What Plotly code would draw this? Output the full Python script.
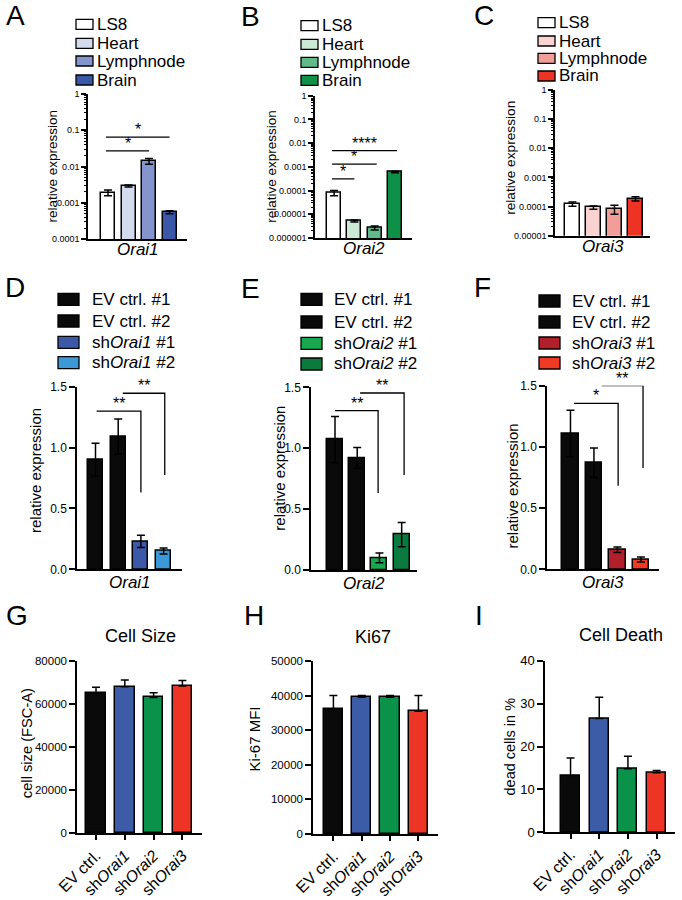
import math
import plotly.graph_objects as go

W, H = 682, 900
FONT = "Liberation Sans, Arial, Helvetica, sans-serif"

# ---------------- data ----------------
tissues = ["LS8", "Heart", "Lymphnode", "Brain"]
genes = ["Orai1", "Orai2", "Orai3"]

orai1_tissue = [0.0019, 0.0029, 0.0140, 0.00055]
orai1_tissue_err = [0.00035, 0.0002, 0.0025, 0.00005]
orai2_tissue = [0.00008, 0.0000052, 0.0000027, 0.00061]
orai2_tissue_err = [0.00002, 0.0000005, 0.0000005, 0.00005]
orai3_tissue = [0.000122, 0.000093, 0.000083, 0.000185]
orai3_tissue_err = [0.00002, 0.000012, 0.000028, 0.00003]

kd_orai1_labels = ["EV ctrl. #1", "EV ctrl. #2", "sh<i>Orai1</i> #1", "sh<i>Orai1</i> #2"]
kd_orai2_labels = ["EV ctrl. #1", "EV ctrl. #2", "sh<i>Orai2</i> #1", "sh<i>Orai2</i> #2"]
kd_orai3_labels = ["EV ctrl. #1", "EV ctrl. #2", "sh<i>Orai3</i> #1", "sh<i>Orai3</i> #2"]
kd_orai1 = [0.90, 1.09, 0.23, 0.15]
kd_orai1_err = [0.135, 0.145, 0.05, 0.025]
kd_orai2 = [1.07, 0.92, 0.10, 0.29]
kd_orai2_err = [0.19, 0.085, 0.04, 0.10]
kd_orai3 = [1.11, 0.87, 0.16, 0.08]
kd_orai3_err = [0.19, 0.12, 0.022, 0.02]

conditions = ["EV ctrl.", "sh<i>Orai1</i>", "sh<i>Orai2</i>", "sh<i>Orai3</i>"]
cell_size = [65300, 68100, 63100, 68400]
cell_size_err = [2500, 3100, 2200, 2500]
ki67_mfi = [36000, 39500, 39500, 35500]
ki67_mfi_err = [4000, 500, 500, 4500]
dead_cells = [13.2, 26.5, 14.8, 13.9]
dead_cells_err = [4.1, 5.0, 2.9, 0.5]

# significance: (bar from, bar to, height, label) / brackets add drop height
sig_A = [(-0.1, 3.0, 0.065, "*"), (-0.1, 2.0, 0.027, "*")]
sig_B = [(-0.1, 3.1, 0.0048, "****"), (-0.1, 2.1, 0.0013, "*"), (-0.1, 1.0, 0.00031, "*")]
sig_D = [(0.05, 2.0, 1.30, 0.63, "**"), (1.2, 3.05, 1.446, 0.775, "**")]
sig_E = [(0.0, 1.94, 1.308, 0.632, "**"), (1.13, 3.11, 1.453, 0.78, "**")]
sig_F = [(0.15, 2.03, 1.356, 0.683, "*"), (1.33, 3.09, 1.50, 0.828, "**")]

# ---------------- styles ----------------
tissue_colors_1 = ["#FFFFFF", "#D5DBEF", "#8494CC", "#3B58A8"]
tissue_colors_2 = ["#FFFFFF", "#CBE9D5", "#62B98A", "#0E9146"]
tissue_colors_3 = ["#FFFFFF", "#F9D2D2", "#F29E98", "#EE3224"]
kd_colors_1 = ["#0A0A0A", "#0A0A0A", "#3C58A8", "#3D98D8"]
kd_colors_2 = ["#0A0A0A", "#0A0A0A", "#17A84F", "#0B7A3E"]
kd_colors_3 = ["#0A0A0A", "#0A0A0A", "#B01F2A", "#EF3A25"]
cond_colors = ["#0A0A0A", "#3D5CA8", "#0A924A", "#EE3424"]


def log_ticks(lo):
    vals = [10.0 ** e for e in range(lo, 1)]
    text = ["1" if e == 0 else "0." + "0" * (-e - 1) + "1" for e in range(lo, 1)]
    minor = [k * 10.0 ** e for e in range(lo, 0) for k in range(2, 10)]
    return vals, text, minor


panels = [
    dict(letter="A", vals=orai1_tissue, err=orai1_tissue_err, colors=tissue_colors_1,
         box=(88, 94, 187, 239), log=-4, xr=(-0.976, 3.85), bw=0.68, tick=9,
         ytitle="relative expression", yt=(-36, 0, 13.5), xtitle=genes[0], xt=11,
         sig=sig_A, names=tissues, leg=(76, 93, 10, [24.3, 43.3, 61, 80], 95),
         lab=(15, 15)),
    dict(letter="B", vals=orai2_tissue, err=orai2_tissue_err, colors=tissue_colors_2,
         box=(315, 95.7, 412, 238), log=-6, xr=(-0.94, 3.84), bw=0.68, tick=9,
         ytitle="relative expression", yt=(-43, 0, 13.5), xtitle=genes[1], xt=10,
         sig=sig_B, names=tissues, leg=(301, 318, 10, [25.7, 44.3, 62.3, 80.3], 320),
         lab=(250, 16)),
    dict(letter="C", vals=orai3_tissue, err=orai3_tissue_err, colors=tissue_colors_3,
         box=(555, 90, 650, 235.7), log=-5, xr=(-0.83, 3.69), bw=0.7, tick=9,
         ytitle="relative expression", yt=(-44, 5, 13.7), xtitle=genes[2], xt=11,
         sig=[], names=tissues, leg=(538, 555, 10, [22.7, 41, 58.3, 76], 557),
         lab=(484, 15)),
    dict(letter="D", vals=kd_orai1, err=kd_orai1_err, colors=kd_colors_1,
         box=(77, 386.7, 182, 569.3), yr=(0, 1.5), dt=0.5, fmt=".1f", xr=(-0.815, 3.81), bw=0.66, tick=12,
         ytitle="relative expression", yt=(-42, 7, 15), xtitle=genes[0], xt=13,
         brk=sig_D, names=kd_orai1_labels, leg=(58, 79, 12, [299.3, 321, 342.3, 362.7], 90),
         lab=(15, 287)),
    dict(letter="E", vals=kd_orai2, err=kd_orai2_err, colors=kd_colors_2,
         box=(311, 387.3, 417, 570), yr=(0, 1.5), dt=0.5, fmt=".1f", xr=(-1.08, 3.69), bw=0.72, tick=12,
         ytitle="relative expression", yt=(-31, 10, 15), xtitle=genes[1], xt=13,
         brk=sig_E, names=kd_orai2_labels, leg=(301, 322, 12, [299.3, 322, 343.3, 364], 332),
         lab=(250, 288.5)),
    dict(letter="F", vals=kd_orai3, err=kd_orai3_err, colors=kd_colors_3,
         box=(547, 385.7, 659, 569.3), yr=(0, 1.5), dt=0.5, fmt=".1f", xr=(-1.0, 3.77), bw=0.7, tick=12,
         ytitle="relative expression", yt=(-35, -9, 15), xtitle=genes[2], xt=13,
         brk=sig_F, names=kd_orai3_labels, leg=(539, 560, 12, [301, 322, 343, 363], 570),
         lab=(482, 287.5)),
    dict(letter="G", vals=cell_size, err=cell_size_err, colors=cond_colors, up=True,
         box=(77, 661, 202, 833.3), yr=(0, 80000), dt=20000, fmt="d", xr=(-0.66, 3.68), bw=0.68, tick=11.5,
         ytitle="cell size (FSC-A)", yt=(-50, 4, 14.7), cats=conditions, title="Cell Size",
         tpos=(140.5, 636), lab=(17, 615.5)),
    dict(letter="H", vals=ki67_mfi, err=ki67_mfi_err, colors=cond_colors, up=True,
         box=(313, 661, 438, 834), yr=(0, 50000), dt=10000, fmt="d", xr=(-0.72, 3.69), bw=0.68, tick=11.5,
         ytitle="Ki-67 MFI", yt=(-59, 8, 15), cats=conditions, title="Ki67",
         tpos=(373.5, 636.5), lab=(254, 615.5)),
    dict(letter="I", vals=dead_cells, err=dead_cells_err, colors=cond_colors, up=True,
         box=(545, 660.7, 675, 832.3), yr=(0, 40), dt=10, fmt="d", xr=(-0.89, 3.64), bw=0.66, tick=13,
         ytitle="dead cells in %", yt=(-36, 0, 14.5), cats=conditions, title="Cell Death",
         tpos=(621, 635), lab=(478.5, 615)),
]

fig = go.Figure()
annotations = []
shapes = []
layout = {}
AX = dict(showline=True, linecolor="black", linewidth=1.5, showgrid=False, zeroline=False,
          tickcolor="black", tickwidth=1.5, fixedrange=True, automargin=False)
STAR_SHIFT = -3

for i, p in enumerate(panels, start=1):
    sx = "" if i == 1 else str(i)
    xa, ya = "x" + sx, "y" + sx
    x0, y0, x1, y1 = p["box"]
    is_log = "log" in p
    idx = list(range(len(p["vals"])))

    err = dict(type="data", array=p["err"], color="black", thickness=1.5, width=4)
    if p.get("up"):
        err.update(symmetric=False, arrayminus=[0] * len(p["err"]))
    fig.add_trace(go.Bar(x=idx, y=p["vals"], width=p["bw"], xaxis=xa, yaxis=ya,
                         marker=dict(color=p["colors"], line=dict(color="black", width=1.5)),
                         error_y=err, showlegend=False, hoverinfo="skip"))

    xaxis = dict(AX, domain=[x0 / W, x1 / W], anchor=ya, range=list(p["xr"]))
    if "cats" in p:
        xaxis.update(tickmode="array", tickvals=idx, ticktext=p["cats"], ticks="outside",
                     ticklen=5, tickangle=-45, tickfont=dict(size=16))
    else:
        xaxis.update(ticks="", showticklabels=False)
    yaxis = dict(AX, domain=[1 - y1 / H, 1 - y0 / H], anchor=xa, ticks="outside",
                 tickfont=dict(size=p["tick"]))
    if is_log:
        tv, tt, mv = log_ticks(p["log"])
        yaxis.update(type="log", range=[p["log"], 0], tickmode="array", tickvals=tv, ticktext=tt,
                     ticklen=5,
                     minor=dict(tickmode="array", tickvals=mv, ticks="outside", ticklen=2.5,
                                tickwidth=1, tickcolor="black", showgrid=False))
    else:
        yaxis.update(range=list(p["yr"]), tickmode="linear", tick0=0, dtick=p["dt"],
                     tickformat=p["fmt"], ticklen=6)
    layout["xaxis" + sx] = xaxis
    layout["yaxis" + sx] = yaxis

    # y title
    dx, dy, fs = p["yt"]
    annotations.append(dict(text=p["ytitle"], xref=xa + " domain", yref=ya + " domain", x=0, y=0.5,
                            xshift=dx, yshift=dy, textangle=-90, showarrow=False,
                            font=dict(size=fs), xanchor="center", yanchor="middle"))
    # x title (gene)
    if "xtitle" in p:
        annotations.append(dict(text="<i>" + p["xtitle"] + "</i>", xref=xa + " domain", yref=ya + " domain",
                                x=0.5, y=0, yshift=-p["xt"], showarrow=False, font=dict(size=17),
                                xanchor="center", yanchor="middle"))
    # chart title
    if "title" in p:
        tx, ty = p["tpos"]
        annotations.append(dict(text=p["title"], xref="paper", yref="paper", x=tx / W, y=1 - ty / H,
                                showarrow=False, font=dict(size=18), xanchor="center", yanchor="middle"))
    # panel letter
    lx, ly = p["lab"]
    annotations.append(dict(text=p["letter"], xref="paper", yref="paper", x=lx / W, y=1 - ly / H,
                            showarrow=False, font=dict(size=28), xanchor="center", yanchor="middle"))

    # significance lines
    for s in p.get("sig", []):
        a, b, h, lbl = s
        fig.add_trace(go.Scatter(x=[a, b], y=[h, h], mode="lines", xaxis=xa, yaxis=ya,
                                 line=dict(color="black", width=1.3), showlegend=False, hoverinfo="skip"))
        annotations.append(dict(text=lbl, xref=xa, yref=ya, x=(a + b) / 2,
                                y=math.log10(h) if is_log else h, yshift=STAR_SHIFT, showarrow=False,
                                font=dict(size=16), xanchor="center", yanchor="bottom"))
    for s in p.get("brk", []):
        a, b, h, d, lbl = s
        fig.add_trace(go.Scatter(x=[a, b, b], y=[h, h, d], mode="lines", xaxis=xa, yaxis=ya,
                                 line=dict(color="black", width=1.3), showlegend=False, hoverinfo="skip",
                                 cliponaxis=False))
        annotations.append(dict(text=lbl, xref=xa, yref=ya, x=(a + b) / 2, y=h, yshift=STAR_SHIFT,
                                showarrow=False, font=dict(size=16), xanchor="center", yanchor="bottom"))

    # legend
    if "leg" in p:
        sx0, sx1, sh, rows, tx = p["leg"]
        for name, col, ry in zip(p["names"], p["colors"], rows):
            shapes.append(dict(type="rect", xref="paper", yref="paper",
                               x0=sx0 / W, x1=sx1 / W, y0=1 - (ry + sh / 2) / H, y1=1 - (ry - sh / 2) / H,
                               fillcolor=col, line=dict(color="black", width=1.3)))
            annotations.append(dict(text=name, xref="paper", yref="paper", x=tx / W, y=1 - ry / H,
                                    showarrow=False, font=dict(size=17), xanchor="left", yanchor="middle"))

fig.update_layout(
    template="none",
    width=W, height=H, margin=dict(l=0, r=0, t=0, b=0, pad=0, autoexpand=False),
    paper_bgcolor="white", plot_bgcolor="white",
    font=dict(family=FONT, color="black"),
    bargap=0, annotations=annotations, shapes=shapes, **layout,
)
fig.write_html("out.html", config={"displayModeBar": False},
               post_script="document.body.style.margin='0';document.body.style.overflow='hidden';")
